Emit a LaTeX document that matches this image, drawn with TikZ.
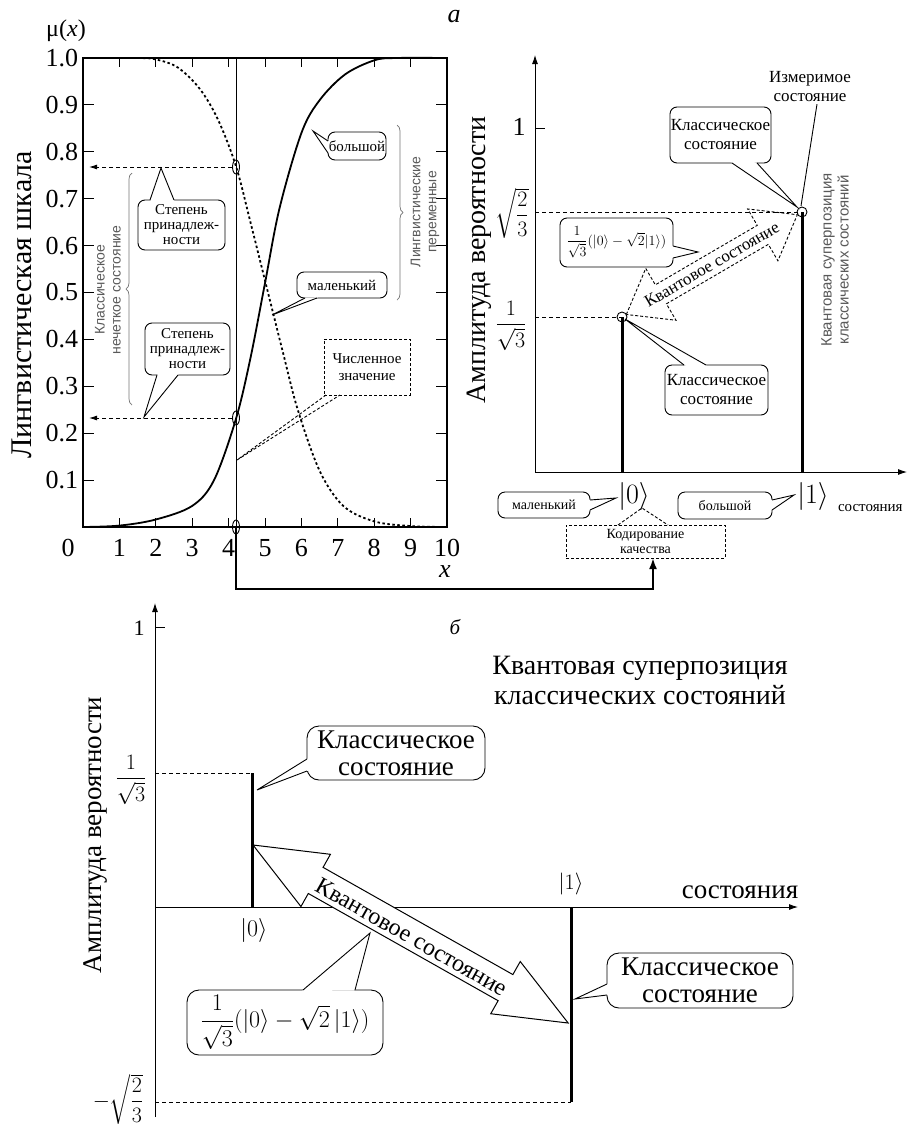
\documentclass[tikz,border=0pt]{standalone}
\usepackage{amsmath}
\usepackage{fix-cm}
\usepackage{fontspec}
\setmainfont{Liberation Serif}
\setsansfont{Liberation Sans}
\usetikzlibrary{calc,arrows.meta,decorations.pathreplacing}

\newcommand{\fsz}[1]{\fontsize{#1}{#1}\selectfont}
\newcommand{\fszl}[2]{\fontsize{#1}{#2}\selectfont}
% speech-bubble tail: base points #2 and #3 on the bubble edge, tip #4, bubble centre #5
\newcommand{\bubbletail}[5][]{%
  \fill[white] (#2) -- (#4) -- (#3) -- ($(#3)!1.2pt!(#5)$) -- ($(#2)!1.2pt!(#5)$) -- cycle;
  \draw[line width=0.9pt,#1] (#2) -- (#4) -- (#3);}

\begin{document}
\begin{tikzpicture}[x=1pt,y=-1pt,
  every node/.style={inner sep=0pt, outer sep=0pt},
  hair/.style={line width=0.9pt},
  frameline/.style={line width=1.4pt},
  barline/.style={line width=3pt},
  guide/.style={line width=0.9pt, dash pattern=on 4pt off 3pt},
  bubble/.style={draw, fill=white, rounded corners=7pt, line width=0.9pt, align=center},
  dbubble/.style={draw, fill=white, line width=0.9pt, dash pattern=on 3pt off 2pt, align=center},
  headtip/.style={-{Latex[length=9pt,width=6pt]}},
  smallhead/.style={-{Latex[length=8pt,width=5pt]}},
  ticklab/.style={font=\fsz{26}},
  graylab/.style={font=\sffamily\fszl{14}{16}, text=black!65, align=center},
]
\useasboundingbox (0,0) rectangle (910,1130);

%================ (a) membership functions
\node[font=\itshape\fsz{26}] (tagA) at (454,17) {а};
\node[font=\fsz{24}] (muax) at (66,31) {μ(\textit{x})};
\node[rotate=90, font=\fsz{30}] (lscale) at (22,305) {Лингвистическая шкала};

\draw[frameline] (83,58) rectangle (447,527);
\foreach \i in {1,...,9} {
  \draw[hair] ({83+36.4*\i},527) -- ++(0,-9);
  \draw[hair] ({83+36.4*\i},58) -- ++(0,9);
  \draw[hair] (83,{527-46.9*\i}) -- ++(11,0);
  \draw[hair] (447,{527-46.9*\i}) -- ++(-11,0);
}
\foreach \j/\t in {1/0.1,2/0.2,3/0.3,4/0.4,5/0.5,6/0.6,7/0.7,8/0.8,9/0.9,10/1.0}
  \node[ticklab, anchor=east] (yl\j) at (78,{527-46.9*\j}) {\t};
\node[ticklab] (xl0) at (68,548) {0};
\foreach \i in {1,...,10}
  \node[ticklab] (xl\i) at ({83+36.4*\i},548) {\i};
\node[font=\itshape\fsz{26}] (xname) at (445,572) {x};

\begin{scope}[shift={(83,527)}, x=36.4pt, y=469pt]
  % "large"
  \draw[line width=1.8pt] plot[smooth, tension=0.55] coordinates {(0,0) (1,0.003) (2,0.016) (3,0.045) (3.6,0.1) (4.2,0.23) (4.6,0.36) (5,0.52) (5.4,0.68) (6,0.84) (6.5,0.91) (7.2,0.965) (8,0.995) (8.6,1) (10,1)};
  % "small"
  \draw[line width=1.8pt, dash pattern=on 2.5pt off 2.5pt] plot[smooth, tension=0.55] coordinates {(0,1) (1.5,1) (2,0.997) (2.6,0.98) (3.2,0.935) (3.7,0.87) (4.2,0.77) (4.6,0.65) (5.05,0.51) (5.5,0.37) (5.9,0.25) (6.5,0.12) (7.15,0.045) (8,0.012) (9,0.002) (10,0)};
\end{scope}

\coordinate (vtop) at (236,58);
\coordinate (vbot) at (236,527);
\coordinate (mBig) at (236,418);
\coordinate (mSmall) at (236,167);
\draw[hair] (vtop) -- (vbot);
\foreach \p in {mSmall,mBig,vbot}
  \draw[hair] (\p) ellipse [x radius=3.5, y radius=7];
\draw[guide, smallhead] ($(mSmall)+(-4,0)$) -- (89,167);
\draw[guide, smallhead] ($(mBig)+(-4,0)$) -- (89,418);

\draw[decorate, decoration={brace, amplitude=6pt}, black!55, line width=0.7pt] (132,405) -- (132,173);
\node[graylab, rotate=90] (fuzzy) at (108,290) {Классическое\\нечеткое состояние};
\draw[decorate, decoration={brace, amplitude=6pt}, black!55, line width=0.7pt] (397,125) -- (397,300);
\node[graylab, rotate=90] (lingv) at (425,212) {Лингвистические\\переменные};

\node[bubble, minimum width=87, minimum height=50, font=\fszl{15}{15}] (deg1) at (181.5,225) {Степень\\принадлеж-\\ности};
\bubbletail{150,200}{174,200}{161,168}{deg1.center}
\node[bubble, minimum width=85, minimum height=52, font=\fszl{15}{15}] (deg2) at (187.5,349) {Степень\\принадлеж-\\ности};
\bubbletail{157,375}{178,375}{144,417}{deg2.center}
\node[bubble, minimum width=58, minimum height=28, font=\fsz{15}] (bigA) at (357,146) {большой};
\bubbletail{328,141}{328,153}{313,131}{bigA.center}
\node[bubble, minimum width=90, minimum height=26, font=\fsz{15}] (smallA) at (342,285) {маленький};
\bubbletail{305,298}{317,298}{272,315}{smallA.center}
\node[dbubble, minimum width=86, minimum height=56, font=\fszl{15}{17}] (numv) at (367,367) {Численное\\значение};
\draw[hair, dash pattern=on 3pt off 2pt] (326,395) -- (237,460) -- (340,395);

%================ (a) right: amplitudes
\node[rotate=90, font=\fsz{28}] (amp1) at (479,260) {Амплитуда вероятности};
\coordinate (o1) at (535,472);
\draw[hair, headtip] (o1) -- (535,55);
\draw[hair, headtip] (o1) -- (907,472);
\draw[hair] (535,128) -- ++(10,0);
\node[font=\fsz{26}] (one1) at (519,127) {1};
\node[font=\fsz{22}] (sq23) at (512,213) {$\sqrt{\dfrac{2}{3}}$};
\node[font=\fsz{22}] (inv3) at (511,326) {$\dfrac{1}{\sqrt{3}}$};
\coordinate (p0) at (622,317);
\coordinate (p1) at (802,212);
\draw[guide] (535,212) -- (p1);
\draw[guide] (535,317) -- (p0);
\draw[barline] (p0) -- (622,472);
\draw[barline] (p1) -- (802,472);
\draw[hair] (p0) circle [radius=5];
\draw[hair] (p1) circle [radius=5];
\node[font=\fsz{28}] (ket0a) at (634,496) {$|0\rangle$};
\node[font=\fsz{28}] (ket1a) at (813,496) {$|1\rangle$};
\node[font=\fsz{15}, anchor=west] (statesA) at (838,508) {состояния};
\node[graylab, font=\sffamily\fszl{15}{17}, rotate=90] (qsup) at (835,260) {Квантовая суперпозиция\\классических состояний};

\node[bubble, minimum width=101, minimum height=56, font=\fszl{17}{19}] (cls1) at (720.5,135) {Классическое\\состояние};
\bubbletail{732,163}{757,163}{797,207}{cls1.center}
\node[font=\fszl{17}{19}, align=center] (meas) at (810,87) {Измеримое\\состояние};
\draw[hair] ($(meas.south)+(7,2)$) -- (801,206);
\node[bubble, minimum width=113, minimum height=49, font=\fsz{14}] (supA) at (616.5,242.5) {$\dfrac{1}{\sqrt{3}}(|0\rangle - \sqrt{2}|1\rangle)$};
\bubbletail{673,246}{673,258}{698,252}{supA.center}
\node[bubble, minimum width=103, minimum height=50, font=\fszl{17}{19}] (cls2) at (716.5,390) {Классическое\\состояние};
\bubbletail{684,365}{706,365}{625,319}{cls2.center}

\begin{scope}[shift={(p0)}, rotate=30.26]
  \draw[hair, dash pattern=on 3pt off 2pt] (5,0) -- (45,-30) -- (45,-11) -- (163,-11) -- (163,-30) -- (203,0) -- (163,30) -- (163,11) -- (45,11) -- (45,30) -- cycle;
  \node[rotate=30.26, font=\fsz{17}] (qstA) at (104,0) {Квантовое состояние};
\end{scope}

\node[bubble, minimum width=92, minimum height=26, font=\fsz{14}] (smallB) at (544,505) {маленький};
\bubbletail{590,500}{590,510}{616,498}{smallB.center}
\node[bubble, minimum width=94, minimum height=27, font=\fsz{14}] (bigB) at (725,505.5) {большой};
\bubbletail{772,500}{772,510}{794,495}{bigB.center}
\node[dbubble, minimum width=159, minimum height=33, font=\fszl{14}{15}] (code) at (645.5,541.5) {Кодирование\\качества};
\draw[hair, dash pattern=on 3pt off 2pt] (618,525) -- (642,508) -- (668,525);

% coding of the crisp value
\draw[line width=2.2pt, -{Latex[length=11pt,width=8pt]}] (vbot) -- (236,589) -| ($(code.south)+(7.5,0)$);

%================ (b) superposition
\node[font=\itshape\fsz{21}] (tagB) at (455,627) {б};
\node[font=\fszl{28}{30}, align=center] (title) at (640,680) {Квантовая суперпозиция\\классических состояний};
\node[rotate=90, font=\fsz{27}] (amp2) at (95,835) {Амплитуда вероятности};
\coordinate (o2) at (155,907);
\draw[hair, headtip] (155,1117) -- (155,603);
\draw[hair, headtip] (o2) -- (798,907);
\draw[hair] (155,627) -- ++(10,0);
\node[font=\fsz{22}] (one2) at (139,628) {1};
\node[font=\fsz{22}] (inv3b) at (131,780) {$\dfrac{1}{\sqrt{3}}$};
\node[font=\fsz{22}] (msq) at (118,1099) {$-\sqrt{\dfrac{2}{3}}$};
\coordinate (q0) at (252,773);
\coordinate (q1) at (571,1102);
\draw[guide] (155,773) -- (q0);
\draw[guide] (155,1102) -- (q1);
\draw[barline] (q0) -- (252,907);
\draw[barline] (571,907) -- (q1);
\node[font=\fsz{24}] (ket0b) at (254,930) {$|0\rangle$};
\node[font=\fsz{22}] (ket1b) at (571,884) {$|1\rangle$};
\node[font=\fsz{27}] (statesB) at (740,892) {состояния};

\begin{scope}[shift={(253,845)}, rotate=-29.46]
  \draw[line width=1pt, fill=white] (0,0) -- (72,-30) -- (72,-15) -- (290,-15) -- (290,-30) -- (362,0) -- (290,30) -- (290,15) -- (72,15) -- (72,30) -- cycle;
  \node[rotate=-29.46, font=\fsz{24}] (qstB) at (183,2) {Квантовое состояние};
\end{scope}

\node[bubble, rounded corners=12pt, minimum width=178, minimum height=54, font=\fszl{27}{27}] (cls3) at (396,753) {Классическое\\состояние};
\bubbletail{307,759}{307,771}{257,790}{cls3.center}
\node[bubble, rounded corners=12pt, minimum width=186, minimum height=55, font=\fszl{27}{27}] (cls4) at (700,980.5) {Классическое\\состояние};
\bubbletail{607,984}{607,995}{575,999}{cls4.center}
\node[bubble, rounded corners=12pt, minimum width=196, minimum height=65, font=\fsz{24}] (supB) at (285,1022.5) {$\dfrac{1}{\sqrt{3}}(|0\rangle - \sqrt{2}\,|1\rangle)$};
\bubbletail{303,990}{355,990}{370,933}{supB.center}
\end{tikzpicture}
\end{document}
